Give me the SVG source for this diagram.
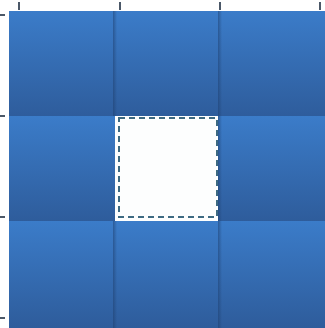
<svg xmlns="http://www.w3.org/2000/svg" width="325" height="328" viewBox="0 0 325 328">
<defs>
<linearGradient id="g" x1="0" y1="0" x2="0" y2="1">
<stop offset="0" stop-color="#3b7cc9"/>
<stop offset="1" stop-color="#2e5c9b"/>
</linearGradient>
<linearGradient id="sh" x1="0" y1="0" x2="1" y2="0">
<stop offset="0" stop-color="#1e3f6e" stop-opacity="0.55"/>
<stop offset="1" stop-color="#1e3f6e" stop-opacity="0"/>
</linearGradient>
</defs>
<style>
.t{fill:url(#g)}
.s{fill:url(#sh)}
.k{stroke:#4b5868;stroke-width:2}
.d{fill:#fdfefe;stroke:#3d6a82;stroke-width:2;stroke-dasharray:6 4}
</style>
<rect width="325" height="328" fill="#fff"/>
<g id="ticks">
<line class="k" x1="19" y1="2" x2="19" y2="10"/>
<line class="k" x1="120" y1="2" x2="120" y2="10"/>
<line class="k" x1="220" y1="2" x2="220" y2="10"/>
<line class="k" x1="320" y1="2" x2="320" y2="10"/>
<line class="k" x1="0" y1="15" x2="5" y2="15"/>
<line class="k" x1="0" y1="116" x2="5" y2="116"/>
<line class="k" x1="0" y1="217" x2="5" y2="217"/>
<line class="k" x1="0" y1="318" x2="5" y2="318"/>
</g>
<g id="r1">
<g id="t11"><rect class="t" x="9" y="11" width="106" height="107"/></g>
<g id="t12"><rect class="t" x="113" y="11" width="106" height="107"/><rect class="s" x="113" y="11" width="4" height="107"/></g>
<g id="t13"><rect class="t" x="218" y="11" width="107" height="107"/><rect class="s" x="218" y="11" width="4" height="107"/></g>
</g>
<g id="r2">
<g id="t21"><rect class="t" x="9" y="116" width="106" height="106"/></g>
<g id="center"><rect x="115" y="116" width="104" height="105" fill="#fdfefe"/><rect class="d" x="119" y="118" width="98" height="99"/></g>
<g id="t23"><rect class="t" x="218" y="116" width="107" height="106"/><rect class="s" x="218" y="116" width="4" height="106"/></g>
</g>
<g id="r3">
<g id="t31"><rect class="t" x="9" y="221" width="106" height="107"/></g>
<g id="t32"><rect class="t" x="113" y="221" width="106" height="107"/><rect class="s" x="113" y="221" width="4" height="107"/></g>
<g id="t33"><rect class="t" x="218" y="221" width="107" height="107"/><rect class="s" x="218" y="221" width="4" height="107"/></g>
</g>
</svg>
